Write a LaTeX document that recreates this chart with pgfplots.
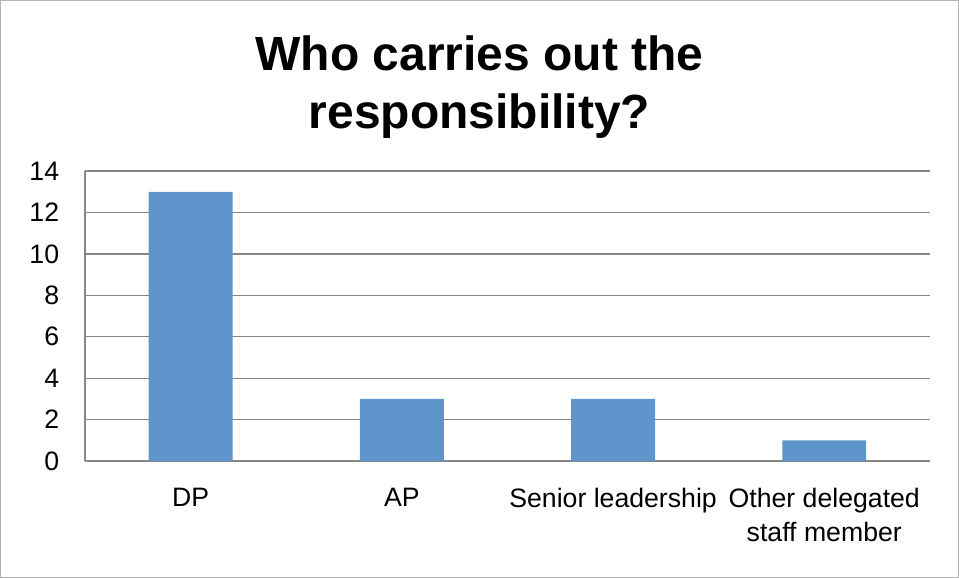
\documentclass[border=0pt]{standalone}
\usepackage{fontspec}
\setmainfont{Liberation Sans}
\usepackage{pgfplots}
\pgfplotsset{compat=1.18}
\definecolor{barblue}{RGB}{94,149,202}
\definecolor{gridgray}{RGB}{134,134,134}
\definecolor{framegray}{RGB}{180,180,180}
\begin{document}
\begin{tikzpicture}[x=0.75pt,y=0.75pt]
\draw[framegray, line width=1pt] (0.5,0.5) rectangle (958.5,577.5);
\node[font=\fontsize{36}{43}\selectfont\bfseries, anchor=base, inner sep=0pt] at (479.5,578-70) {Who carries out the};
\node[font=\fontsize{36}{43}\selectfont\bfseries, anchor=base, inner sep=0pt] at (479.5,578-128) {responsibility?};
\begin{axis}[
  at={(63.75pt,87.75pt)}, anchor=south west,
  scale only axis, width=633.75pt, height=217.5pt,
  xmin=-0.5, xmax=3.5, ymin=0, ymax=14,
  ytick={0,2,...,14},
  xtick={0,1,2,3},
  xticklabels={DP,AP,Senior leadership,{Other delegated\\staff member}},
  axis x line*=bottom, axis y line*=left,
  axis line style={gridgray, line width=1pt},
  major tick length=0pt,
  ymajorgrids, grid style={gridgray, line width=1pt},
  /pgf/number format/assume math mode=true,
  tick label style={font=\fontsize{20}{25.5}\selectfont, text=black},
  xticklabel style={align=center, yshift=-17pt},
  yticklabel style={xshift=-16pt},
  ybar, bar width=63pt,
]
\addplot[fill=barblue, draw=none] coordinates {(0,13) (1,3) (2,3) (3,1)};
\end{axis}
\end{tikzpicture}
\end{document}
